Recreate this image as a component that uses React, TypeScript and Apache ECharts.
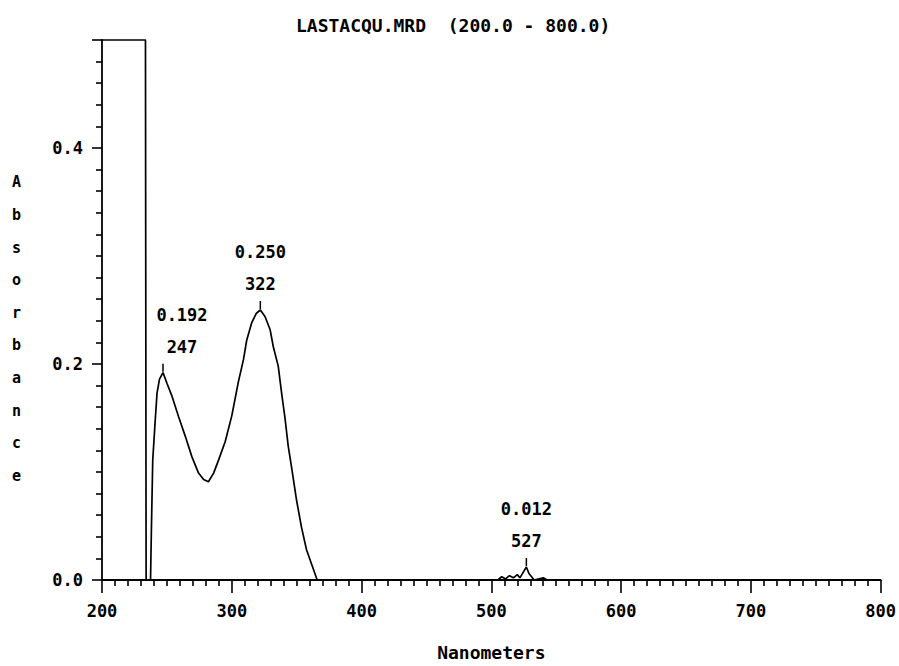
import React, { useEffect, useRef } from "react";
import * as echarts from "echarts";

const chartTitle = "LASTACQU.MRD  (200.0 - 800.0)";
const xAxisTitle = "Nanometers";
const yAxisTitle = "Absorbance";

// wavelength (nm) and absorbance
const wavelengths = [
  200, 233.5, 234, 237.4, 238.1, 239.1, 240.7, 242.4, 244.3, 247, 250.1, 254,
  259.1, 264.2, 269.3, 274.4, 278.3, 282, 286, 289.8, 294.9, 300, 305, 309,
  311.5, 315.3, 319, 322, 325.6, 329.5, 332, 335.8, 338.4, 341, 343.5, 346,
  349.9, 353.7, 357.6, 361.4, 365.2, 366, 505, 508, 511, 514, 517, 520, 522,
  525, 527, 529, 531, 533, 540, 543, 800,
];
const absorbance = [
  0.5, 0.5, 0, 0, 0.049, 0.111, 0.142, 0.173, 0.186, 0.192, 0.182, 0.17,
  0.151, 0.133, 0.114, 0.099, 0.093, 0.091, 0.099, 0.111, 0.128, 0.152, 0.183,
  0.204, 0.222, 0.238, 0.247, 0.25, 0.244, 0.232, 0.216, 0.198, 0.173, 0.15,
  0.124, 0.105, 0.074, 0.049, 0.028, 0.015, 0.002, 0, 0, 0.003, 0.001, 0.004,
  0.002, 0.005, 0.002, 0.008, 0.012, 0.006, 0.003, 0, 0.002, 0, 0,
];

const peakNm = [247, 322, 527];
const peakAbs = [0.192, 0.25, 0.012];

const yTickLabels = ["0.0", "0.2", "0.4"];

const FONT = "'DejaVu Sans Mono', 'Liberation Mono', monospace";

export default function App() {
  const ref = useRef<HTMLDivElement>(null);
  useEffect(() => {
    if (!ref.current) return;
    const chart = echarts.init(ref.current, null, { renderer: "svg" });
    const lineData = wavelengths.map((w, i) => [w, absorbance[i]]);
    const peakData = peakNm.map((w, i) => ({
      value: [w, peakAbs[i]],
      label: i === 0 ? { offset: [19, 0] } : {},
    }));
    chart.setOption({
      animation: false,
      backgroundColor: "#ffffff",
      grid: { left: 102, right: 14, top: 40, bottom: 86, containLabel: false },
      graphic: [
        {
          type: "text",
          left: 296,
          top: 16,
          style: {
            text: chartTitle,
            font: `bold 18px ${FONT}`,
            fill: "#000",
          },
        },
        {
          type: "text",
          left: 12,
          top: 166,
          style: {
            text: yAxisTitle.split("").join("\n"),
            font: `bold 15px ${FONT}`,
            lineHeight: 32.6,
            fill: "#000",
            align: "center",
          },
        },
      ],
      xAxis: {
        type: "value",
        min: 200,
        max: 800,
        interval: 100,
        name: xAxisTitle,
        nameLocation: "middle",
        nameGap: 63,
        nameTextStyle: { fontFamily: FONT, fontWeight: "bold", fontSize: 18, color: "#000" },
        axisLine: { show: true, onZero: false, lineStyle: { color: "#000", width: 1.8 } },
        axisTick: { show: true, length: 13, lineStyle: { color: "#000", width: 1.6 } },
        minorTick: { show: true, splitNumber: 10, length: 6, lineStyle: { color: "#000", width: 1.6 } },
        splitLine: { show: false },
        axisLabel: {
          margin: 22,
          fontFamily: FONT,
          fontWeight: "bold",
          fontSize: 17,
          color: "#000",
        },
      },
      yAxis: {
        type: "value",
        min: 0,
        max: 0.5,
        interval: 0.2,
        axisLine: { show: true, lineStyle: { color: "#000", width: 1.8 } },
        axisTick: { show: true, length: 10, lineStyle: { color: "#000", width: 1.6 } },
        minorTick: { show: true, splitNumber: 10, length: 6, lineStyle: { color: "#000", width: 1.6 } },
        splitLine: { show: false },
        axisLabel: {
          margin: 19,
          fontFamily: FONT,
          fontWeight: "bold",
          fontSize: 17,
          color: "#000",
          formatter: (v: number) => {
            const idx = Math.round(v / 0.2);
            return Math.abs(v - idx * 0.2) < 1e-9 && idx < yTickLabels.length ? yTickLabels[idx] : "";
          },
        },
      },
      series: [
        {
          type: "line",
          data: lineData,
          symbol: "none",
          clip: false,
          lineStyle: { color: "#000", width: 1.7 },
        },
        {
          type: "scatter",
          data: peakData,
          symbol: "rect",
          symbolSize: [1.5, 8],
          symbolOffset: [0, -5],
          itemStyle: { color: "#000", opacity: 1 },
          label: {
            show: true,
            position: "top",
            distance: 1,
            formatter: (p: any) => `${p.value[1].toFixed(3)}\n${p.value[0]}`,
            fontFamily: FONT,
            fontWeight: "bold",
            fontSize: 17,
            lineHeight: 32,
            color: "#000",
            opacity: 1,
            textBorderWidth: 0,
          },
        },
      ],
    });
    return () => chart.dispose();
  }, []);
  return (
    <div
      ref={ref}
      style={{ position: "fixed", left: 0, top: 0, width: 899, height: 666, background: "#fff" }}
    />
  );
}
